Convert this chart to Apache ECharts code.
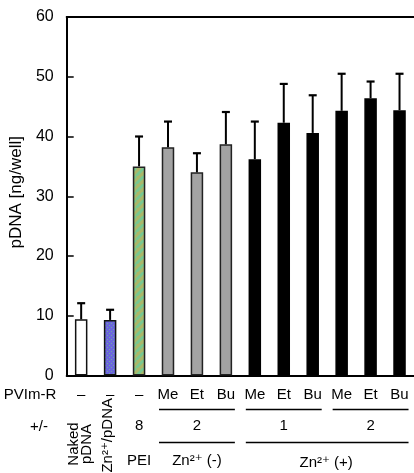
<!DOCTYPE html>
<html>
<head>
<meta charset="utf-8">
<script src="https://cdn.jsdelivr.net/npm/echarts@6/dist/echarts.min.js"></script>
<style>
  html, body { margin: 0; padding: 0; background: #fff; }
  #main { width: 414px; height: 473px; }
</style>
</head>
<body>
<div id="main"></div>
<script>
// data
const categories = ['–', '–', '–', 'Me', 'Et', 'Bu', 'Me', 'Et', 'Bu', 'Me', 'Et', 'Bu'];
const ratioLabels = ['', '', '8', '', '2', '', '', '1', '', '', '2', ''];
const groupLabels = ['', '', 'PEI', '', 'Zn²⁺ (-)', '', '', '', '', '', '', ''];
const means = [9.4, 9.3, 35.0, 38.2, 34.0, 38.7, 36.2, 42.3, 40.6, 44.3, 46.4, 44.4];
const errors = [2.7, 1.7, 5.0, 4.3, 3.2, 5.4, 6.3, 6.5, 6.3, 6.2, 2.8, 6.1];
const yMin = 0, yMax = 60, yStep = 10;

const FONT = 'Liberation Sans, Arial, DejaVu Sans, sans-serif';

function makeTile(w, h, draw) {
  const c = document.createElement('canvas');
  c.width = w; c.height = h;
  draw(c.getContext('2d'));
  return c;
}
// blue with faint green dots
const dotTile = makeTile(4, 4, ctx => {
  ctx.fillStyle = '#6b66dc'; ctx.fillRect(0, 0, 4, 4);
  ctx.fillStyle = '#6fa8a0'; ctx.fillRect(1, 1, 1, 1);
  ctx.fillRect(3, 3, 1, 1);
});
// green / olive diagonal stripes
const stripeTile = makeTile(8, 8, ctx => {
  ctx.fillStyle = '#aab86a'; ctx.fillRect(0, 0, 8, 8);
  ctx.strokeStyle = '#78c890'; ctx.lineWidth = 2.8;
  for (let k = -8; k <= 16; k += 8) {
    ctx.beginPath(); ctx.moveTo(k, 8); ctx.lineTo(k + 8, 0); ctx.stroke();
  }
});

function barStyle(i) {
  if (i === 0) return { color: '#fff', borderColor: '#111' };
  if (i === 1) return { color: { image: dotTile, repeat: 'repeat' }, borderColor: '#111' };
  if (i === 2) return { color: { image: stripeTile, repeat: 'repeat' }, borderColor: '#222' };
  if (i < 6) return { color: '#a3a3a3', borderColor: '#222' };
  return { color: '#000', borderColor: '#000' };
}

const chart = echarts.init(document.getElementById('main'), null, { renderer: 'canvas' });

const hiddenAxis = { show: true, axisLine: { show: false }, axisTick: { show: false }, splitLine: { show: false } };

chart.setOption({
  animation: false,
  backgroundColor: '#fff',
  textStyle: { fontFamily: FONT, color: '#000' },
  grid: { left: 66, top: 17, width: 355.2, height: 358.5, containLabel: false },
  xAxis: [
    {
      type: 'category', data: categories, position: 'bottom',
      axisLine: { lineStyle: { color: '#000', width: 2 } },
      axisTick: { show: false },
      axisLabel: { margin: 12, fontSize: 15, color: '#000', fontFamily: FONT, interval: 0 }
    },
    Object.assign({}, hiddenAxis, {
      type: 'category', data: ratioLabels, position: 'bottom',
      axisLabel: { margin: 43, fontSize: 15, color: '#000', fontFamily: FONT, interval: 0 }
    }),
    Object.assign({}, hiddenAxis, {
      type: 'category', data: groupLabels, position: 'bottom',
      axisLabel: { margin: 78, fontSize: 15, color: '#000', fontFamily: FONT, interval: 0 }
    }),
    {
      type: 'category', data: categories, position: 'top',
      axisLine: { lineStyle: { color: '#000', width: 2 } },
      axisTick: { show: false }, axisLabel: { show: false }
    }
  ],
  yAxis: {
    type: 'value', min: yMin, max: yMax, interval: yStep,
    name: 'pDNA [ng/well]', nameLocation: 'middle', nameGap: 30,
    nameTextStyle: { fontSize: 17, color: '#000', fontFamily: FONT, padding: [0, 0, 0, 8] },
    axisLine: { show: true, lineStyle: { color: '#000', width: 2 } },
    axisTick: { show: true, inside: true, length: 7, lineStyle: { color: '#000', width: 1.5 } },
    axisLabel: { fontSize: 16, color: '#000', margin: 13, fontFamily: FONT },
    splitLine: { show: false }
  },
  series: [
    {
      type: 'bar', barWidth: 12.5,
      data: means.map((v, i) => ({ value: v, itemStyle: Object.assign({ borderWidth: 1.5 }, barStyle(i)) })),
      z: 2
    },
    {
      type: 'custom', z: 3,
      data: means.map((v, i) => [i, v, errors[i]]),
      renderItem: function (params, api) {
        const i = api.value(0);
        const base = api.coord([i, api.value(1)]);
        const top = api.coord([i, api.value(1) + api.value(2)]);
        const st = { stroke: '#000', lineWidth: 2 };
        return {
          type: 'group',
          children: [
            { type: 'line', shape: { x1: base[0], y1: base[1], x2: top[0], y2: top[1] }, style: st },
            { type: 'line', shape: { x1: top[0] - 4, y1: top[1], x2: top[0] + 4, y2: top[1] }, style: { stroke: '#000', lineWidth: 2.2 } }
          ]
        };
      }
    }
  ]
});

// annotation: brackets and labels under the axis, placed from the category scale
function px(i) { return chart.convertToPixel({ xAxisIndex: 0 }, i); }
const g = [];
const line = (x1, x2, y) => g.push({ type: 'line', shape: { x1: x1, y1: y, x2: x2, y2: y }, style: { stroke: '#000', lineWidth: 1.3 } });
const text = (x, y, s, extra) => g.push(Object.assign({ type: 'text', x: x, y: y, style: { text: s, font: '15px ' + FONT, fill: '#000', align: 'center', verticalAlign: 'middle' } }, extra || {}));

[[3, 5], [6, 8], [9, 11]].forEach(([a, b]) => line(px(a) - 9, px(b) + 9, 409.5));
line(px(3) - 9, px(5) + 9, 442.5);
line(px(6) - 9, px(11) + 9, 442.5);

text(30, 395, 'PVIm-R');
text(39, 427, '+/-');
text((px(8) + px(9)) / 2 - 1, 463, 'Zn²⁺ (+)');
g.push({ type: 'text', x: px(0) - 1, y: 444, rotation: Math.PI / 2,
  style: { text: 'Naked\npDNA', font: '15px ' + FONT, fill: '#000', align: 'center', verticalAlign: 'middle', lineHeight: 13 } });
g.push({ type: 'text', x: px(1) - 2, y: 398, rotation: Math.PI / 2,
  style: { text: 'Zn²⁺/pDNA', font: '15px ' + FONT, fill: '#000', align: 'right', verticalAlign: 'middle' } });

chart.setOption({ graphic: g });
</script>
</body>
</html>
